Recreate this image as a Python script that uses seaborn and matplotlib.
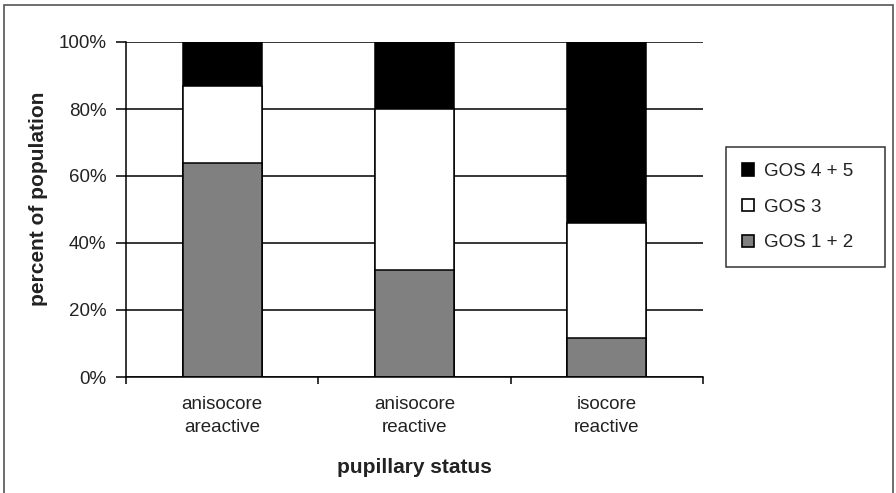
import numpy as np
import pandas as pd
import seaborn as sns
import matplotlib as mpl
import matplotlib.pyplot as plt
from matplotlib.patches import Patch, Rectangle

## DATA
categories = ['anisocore\nareactive', 'anisocore\nreactive', 'isocore\nreactive']
gos_12 = [64, 32, 11.5]
gos_3 = [23, 48, 34.5]
gos_45 = [13, 20, 54]
series_names = ['GOS 4 + 5', 'GOS 3', 'GOS 1 + 2']
series_colors = ['#000000', '#ffffff', '#808080']
yticks = [0, 20, 40, 60, 80, 100]
ytick_labels = ['0%', '20%', '40%', '60%', '80%', '100%']

## STYLE
sns.set_style("white")
plt.rcParams['font.family'] = ['Liberation Sans', 'DejaVu Sans']

df = pd.DataFrame({'status': categories, 'GOS 1 + 2': gos_12, 'GOS 3': gos_3, 'GOS 4 + 5': gos_45})
# cumulative tops for stacking (draw tallest first, then overlay)
df['top_12'] = df['GOS 1 + 2']
df['top_3'] = df['top_12'] + df['GOS 3']
df['top_45'] = df['top_3'] + df['GOS 4 + 5']

fig = plt.figure(figsize=(8.96, 4.93), dpi=100)
ax = fig.add_axes([126 / 896, 1 - 377 / 493, (703 - 126) / 896, (377 - 42) / 493])

# gridlines behind the bars
ax.set_axisbelow(True)
ax.yaxis.grid(True, color='black', lw=1.1)

for col, color in zip(['top_45', 'top_3', 'top_12'], series_colors):
    sns.barplot(data=df, x='status', y=col, color=color, width=0.41,
                edgecolor='black', linewidth=1.1, saturation=1, ax=ax, zorder=2)

ax.set(xlim=(-0.5, 2.5), ylim=(0, 100))
ax.set_yticks(yticks)
ax.set_yticklabels(ytick_labels, fontsize=13.5, color='#222222')
ax.set_xticks(range(len(categories)))
ax.set_xticklabels(categories, fontsize=13.5, linespacing=1.45, color='#222222')
ax.set_xticks([-0.5, 0.5, 1.5, 2.5], minor=True)
ax.tick_params(axis='x', which='major', length=0, pad=13.5)
ax.tick_params(axis='x', which='minor', length=5, width=1.1, color='black', bottom=True)
ax.tick_params(axis='y', length=7, width=1.1, color='black', left=True, pad=7)

for side in ['top', 'right']:
    ax.spines[side].set_visible(False)
for side in ['left', 'bottom']:
    ax.spines[side].set_color('black')
    ax.spines[side].set_linewidth(1.1)

ax.set_xlabel('pupillary status', fontsize=15, fontweight='bold', labelpad=16, color='#222222')
ax.set_ylabel('percent of population', fontsize=15, fontweight='bold', color='#222222')
ax.yaxis.set_label_coords(-0.135, 0.531)

# legend with square markers (trailing spaces widen the box like the original)
handles = [Patch(facecolor=c, edgecolor='black', linewidth=1.2, label=n + '   ')
           for n, c in zip(series_names, series_colors)]
leg = fig.legend(handles=handles, loc='upper left', bbox_to_anchor=(726 / 896, 1 - 147 / 493),
                 frameon=True, fancybox=False, edgecolor='black', fontsize=13.5,
                 handlelength=0.65, handleheight=0.65, handletextpad=0.55,
                 labelspacing=1.0, borderpad=0.85, borderaxespad=0)
leg.get_frame().set_linewidth(1.1)
for t in leg.get_texts():
    t.set_color('#222222')

# outer frame around the figure
fig.patches.append(Rectangle((4 / 896, -0.02), 889 / 896, 1 - 5 / 493 + 0.02,
                             transform=fig.transFigure, fill=False,
                             edgecolor='#555555', linewidth=1.2))

fig.savefig('out.png', dpi=100)
